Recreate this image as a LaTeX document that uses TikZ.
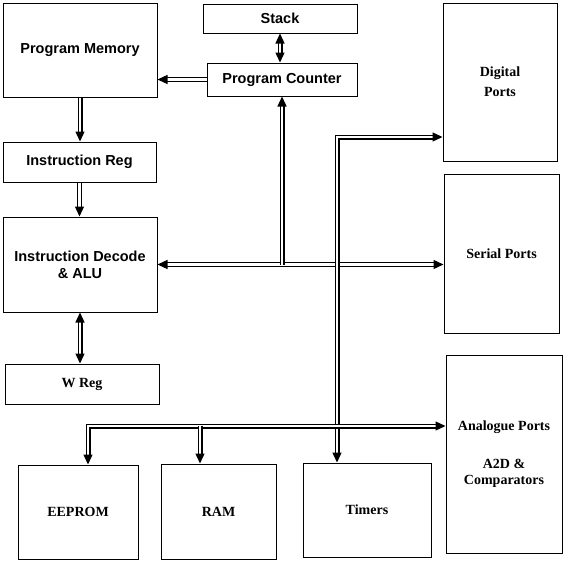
\documentclass[tikz,border=0pt]{standalone}
\usepackage{fontspec}
\setmainfont{Liberation Serif}
\setsansfont{Liberation Sans}
\usepackage{tikz}
\usetikzlibrary{arrows.meta, positioning}

\begin{document}
\begin{tikzpicture}[
    x=1pt, y=-1pt,
    >={Triangle[length=10pt, width=9pt]},
    box/.style={rectangle, draw, line width=1pt, align=center, inner sep=2pt},
    unit/.style={box, font=\sffamily\bfseries\fontsize{14.5}{17}\selectfont},
    port/.style={box, font=\rmfamily\bfseries\fontsize{14}{16}\selectfont},
    pipe/.style={double, double distance=2.4pt, line width=1.3pt},
]
    \useasboundingbox (0,0) rectangle (565,563);

    % Processor blocks
    \node[unit, minimum width=154pt, minimum height=94pt] (pm) at (80,50) {Program Memory};
    \node[unit, minimum width=154pt, minimum height=29pt] (stack) at (280,18.5) {Stack};
    \node[unit, minimum width=150pt, minimum height=33pt] (pc) at (282,79.5) {Program Counter};
    \node[unit, minimum width=153pt, minimum height=40pt] (ir) at (79.5,162) {Instruction Reg};
    \node[unit, minimum width=154pt, minimum height=95pt] (alu) at (80,264.5) {Instruction Decode\\ \& ALU};
    \node[port, minimum width=154pt, minimum height=40pt] (wreg) at (82,384) {W Reg};

    % Port blocks
    \node[port, minimum width=114pt, minimum height=158pt] (digital) at (500,82) {Digital\\[4pt] Ports};
    \node[port, minimum width=115pt, minimum height=159pt] (serial) at (501.5,253.5) {Serial Ports};
    \node[port, minimum width=116pt, minimum height=198pt] (analog) at (504,454) {Analogue Ports\\[22pt] A2D \&\\ Comparators};

    % Peripheral blocks
    \node[port, minimum width=120pt, minimum height=94pt] (eeprom) at (78,512) {EEPROM};
    \node[port, minimum width=115pt, minimum height=95pt] (ram) at (218.5,511.5) {RAM};
    \node[port, minimum width=128pt, minimum height=94pt] (timers) at (367,510) {Timers};

    % Bus corners
    \coordinate (dtop) at (337,137);
    \coordinate (btop) at (88,426);
    \coordinate (rtap) at (200,426);

    % Connect everything
    \draw[pipe, ->] (pc.west) -- (pc.west -| pm.east);
    \draw[pipe, <->] (stack.south) -- (stack.south |- pc.north);
    \draw[pipe, ->] (pm.south) -- (pm.south |- ir.north);
    \draw[pipe, ->] (ir.south) -- (ir.south |- alu.north);
    \draw[pipe, <->] (alu.south) -- (alu.south |- wreg.north);
    \draw[pipe, <->] (alu.east) -- (alu.east -| serial.west);
    \draw[pipe, ->] (alu.east -| pc.south) -- (pc.south);
    \draw[pipe, <->] (dtop |- timers.north) -- (dtop) -- (dtop -| digital.west);
    \draw[pipe, <->] (btop |- eeprom.north) -- (btop) -- (btop -| analog.west);
    \draw[pipe, ->] (rtap) -- (rtap |- ram.north);
\end{tikzpicture}
\end{document}
